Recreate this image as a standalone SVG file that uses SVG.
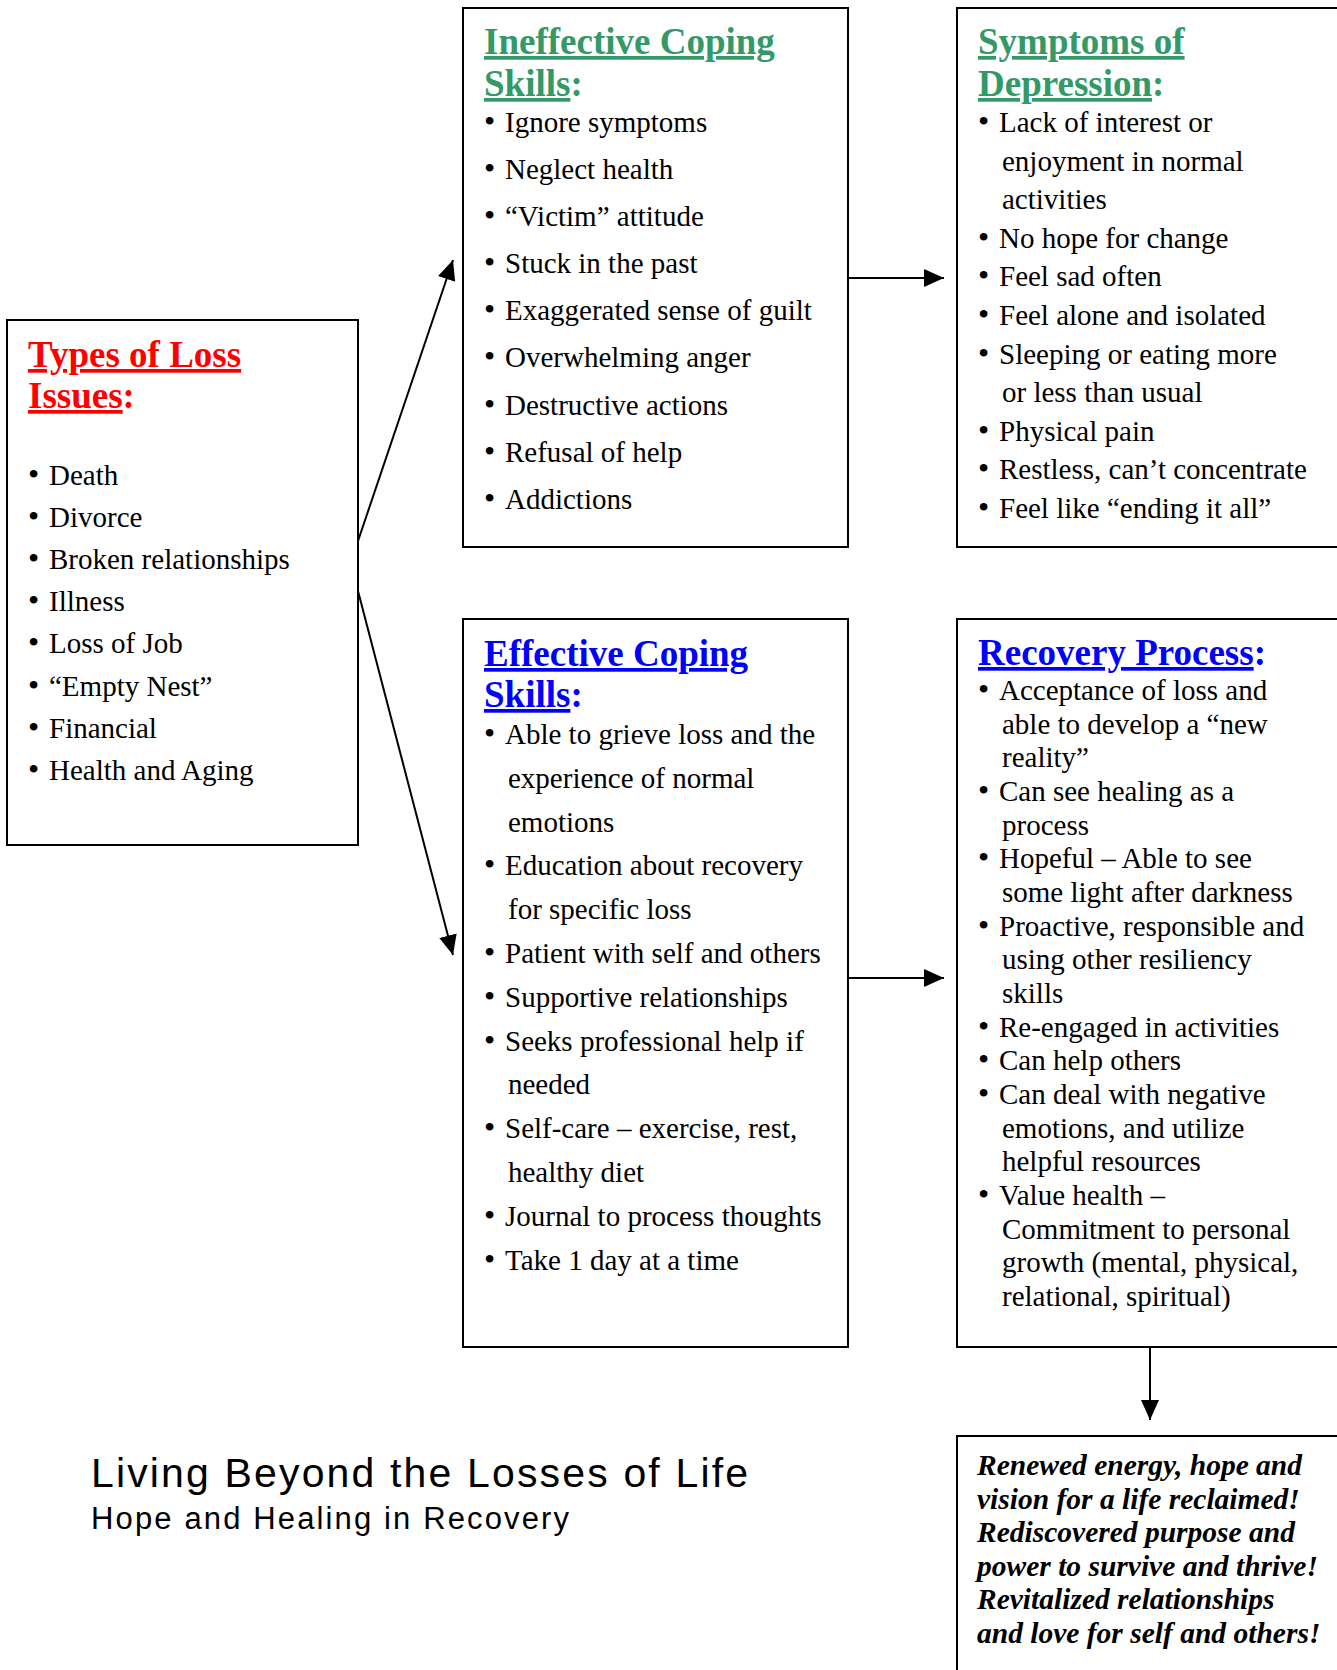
<svg xmlns="http://www.w3.org/2000/svg" width="1337" height="1670" viewBox="0 0 1337 1670">
<defs>
<marker id="ah" markerUnits="userSpaceOnUse" markerWidth="21" markerHeight="18" refX="20" refY="9" orient="auto">
<path d="M0,0 L20,9 L0,18 z" fill="#000"/>
</marker>
<style>
.box{fill:#fff;stroke:#000;stroke-width:2}
.t{font-family:"Liberation Serif","Times New Roman",serif;font-size:29px;fill:#000}
.b{font-size:32px}
.h{font-family:"Liberation Serif","Times New Roman",serif;font-size:37px;font-weight:bold}
.u{text-decoration:underline}
.red{fill:#ff0000}
.grn{fill:#339966}
.blu{fill:#0000ff}
.bi{font-family:"Liberation Serif","Times New Roman",serif;font-size:29.5px;font-weight:bold;font-style:italic;fill:#000}
.ft{font-family:"Liberation Sans",Arial,sans-serif;fill:#000}
.ln{stroke:#000;stroke-width:2;fill:none}
</style>
</defs>
<rect width="1337" height="1670" fill="#fff"/>

<g id="connectors">
<line class="ln" x1="358" y1="541" x2="453" y2="260" marker-end="url(#ah)"/>
<line class="ln" x1="358" y1="591" x2="453" y2="955" marker-end="url(#ah)"/>
<line class="ln" x1="848" y1="278" x2="944" y2="278" marker-end="url(#ah)"/>
<line class="ln" x1="848" y1="978" x2="944" y2="978" marker-end="url(#ah)"/>
<line class="ln" x1="1150" y1="1348" x2="1150" y2="1420" marker-end="url(#ah)"/>
</g>

<g id="types">
<rect class="box" x="7" y="320" width="351" height="525"/>
<text class="h red" x="28" y="367"><tspan class="u">Types of Loss</tspan></text>
<text class="h red" x="28" y="408"><tspan class="u">Issues</tspan>:</text>
<g class="t">
<text class="b" x="28" y="485">•</text><text x="49" y="485">Death</text>
<text class="b" x="28" y="527">•</text><text x="49" y="527">Divorce</text>
<text class="b" x="28" y="569">•</text><text x="49" y="569">Broken relationships</text>
<text class="b" x="28" y="611">•</text><text x="49" y="611">Illness</text>
<text class="b" x="28" y="653">•</text><text x="49" y="653">Loss of Job</text>
<text class="b" x="28" y="696">•</text><text x="49" y="696">“Empty Nest”</text>
<text class="b" x="28" y="738">•</text><text x="49" y="738">Financial</text>
<text class="b" x="28" y="780">•</text><text x="49" y="780">Health and Aging</text>
</g>
</g>

<g id="ineffective">
<rect class="box" x="463" y="8" width="385" height="539"/>
<text class="h grn" x="484" y="54"><tspan class="u">Ineffective Coping</tspan></text>
<text class="h grn" x="484" y="96"><tspan class="u">Skills</tspan>:</text>
<g class="t">
<text class="b" x="484" y="132">•</text><text x="505" y="132">Ignore symptoms</text>
<text class="b" x="484" y="179">•</text><text x="505" y="179">Neglect health</text>
<text class="b" x="484" y="226">•</text><text x="505" y="226">“Victim” attitude</text>
<text class="b" x="484" y="273">•</text><text x="505" y="273">Stuck in the past</text>
<text class="b" x="484" y="320">•</text><text x="505" y="320">Exaggerated sense of guilt</text>
<text class="b" x="484" y="367">•</text><text x="505" y="367">Overwhelming anger</text>
<text class="b" x="484" y="415">•</text><text x="505" y="415">Destructive actions</text>
<text class="b" x="484" y="462">•</text><text x="505" y="462">Refusal of help</text>
<text class="b" x="484" y="509">•</text><text x="505" y="509">Addictions</text>
</g>
</g>

<g id="symptoms">
<rect class="box" x="957" y="8" width="390" height="539"/>
<text class="h grn" x="978" y="54"><tspan class="u">Symptoms of</tspan></text>
<text class="h grn" x="978" y="96"><tspan class="u">Depression</tspan>:</text>
<g class="t">
<text class="b" x="978" y="132">•</text><text x="999" y="132">Lack of interest or</text>
<text x="1002" y="171">enjoyment in normal</text>
<text x="1002" y="209">activities</text>
<text class="b" x="978" y="248">•</text><text x="999" y="248">No hope for change</text>
<text class="b" x="978" y="286">•</text><text x="999" y="286">Feel sad often</text>
<text class="b" x="978" y="325">•</text><text x="999" y="325">Feel alone and isolated</text>
<text class="b" x="978" y="364">•</text><text x="999" y="364">Sleeping or eating more</text>
<text x="1002" y="402">or less than usual</text>
<text class="b" x="978" y="441">•</text><text x="999" y="441">Physical pain</text>
<text class="b" x="978" y="479">•</text><text x="999" y="479">Restless, can’t concentrate</text>
<text class="b" x="978" y="518">•</text><text x="999" y="518">Feel like “ending it all”</text>
</g>
</g>

<g id="effective">
<rect class="box" x="463" y="619" width="385" height="728"/>
<text class="h blu" x="484" y="666"><tspan class="u">Effective Coping</tspan></text>
<text class="h blu" x="484" y="707"><tspan class="u">Skills</tspan>:</text>
<g class="t">
<text class="b" x="484" y="744">•</text><text x="505" y="744">Able to grieve loss and the</text>
<text x="508" y="788">experience of normal</text>
<text x="508" y="832">emotions</text>
<text class="b" x="484" y="875">•</text><text x="505" y="875">Education about recovery</text>
<text x="508" y="919">for specific loss</text>
<text class="b" x="484" y="963">•</text><text x="505" y="963">Patient with self and others</text>
<text class="b" x="484" y="1007">•</text><text x="505" y="1007">Supportive relationships</text>
<text class="b" x="484" y="1051">•</text><text x="505" y="1051">Seeks professional help if</text>
<text x="508" y="1094">needed</text>
<text class="b" x="484" y="1138">•</text><text x="505" y="1138">Self-care – exercise, rest,</text>
<text x="508" y="1182">healthy diet</text>
<text class="b" x="484" y="1226">•</text><text x="505" y="1226">Journal to process thoughts</text>
<text class="b" x="484" y="1270">•</text><text x="505" y="1270">Take 1 day at a time</text>
</g>
</g>

<g id="recovery">
<rect class="box" x="957" y="619" width="390" height="728"/>
<text class="h blu" x="978" y="665"><tspan class="u">Recovery Process</tspan>:</text>
<g class="t">
<text class="b" x="978" y="700">•</text><text x="999" y="700">Acceptance of loss and</text>
<text x="1002" y="734">able to develop a “new</text>
<text x="1002" y="767">reality”</text>
<text class="b" x="978" y="801">•</text><text x="999" y="801">Can see healing as a</text>
<text x="1002" y="835">process</text>
<text class="b" x="978" y="868">•</text><text x="999" y="868">Hopeful – Able to see</text>
<text x="1002" y="902">some light after darkness</text>
<text class="b" x="978" y="936">•</text><text x="999" y="936">Proactive, responsible and</text>
<text x="1002" y="969">using other resiliency</text>
<text x="1002" y="1003">skills</text>
<text class="b" x="978" y="1037">•</text><text x="999" y="1037">Re-engaged in activities</text>
<text class="b" x="978" y="1070">•</text><text x="999" y="1070">Can help others</text>
<text class="b" x="978" y="1104">•</text><text x="999" y="1104">Can deal with negative</text>
<text x="1002" y="1138">emotions, and utilize</text>
<text x="1002" y="1171">helpful resources</text>
<text class="b" x="978" y="1205">•</text><text x="999" y="1205">Value health –</text>
<text x="1002" y="1239">Commitment to personal</text>
<text x="1002" y="1272">growth (mental, physical,</text>
<text x="1002" y="1306">relational, spiritual)</text>
</g>
</g>

<g id="renewed">
<rect class="box" x="957" y="1436" width="390" height="250"/>
<g class="bi">
<text x="977" y="1475">Renewed energy, hope and</text>
<text x="977" y="1508.5">vision for a life reclaimed!</text>
<text x="977" y="1542">Rediscovered purpose and</text>
<text x="977" y="1575.5">power to survive and thrive!</text>
<text x="977" y="1609">Revitalized relationships</text>
<text x="977" y="1642.5">and love for self and others!</text>
</g>
</g>

<g id="footer">
<text class="ft" x="91" y="1487" font-size="41" textLength="657" lengthAdjust="spacing">Living Beyond the Losses of Life</text>
<text class="ft" x="91" y="1529" font-size="31" textLength="478" lengthAdjust="spacing">Hope and Healing in Recovery</text>
</g>
</svg>
